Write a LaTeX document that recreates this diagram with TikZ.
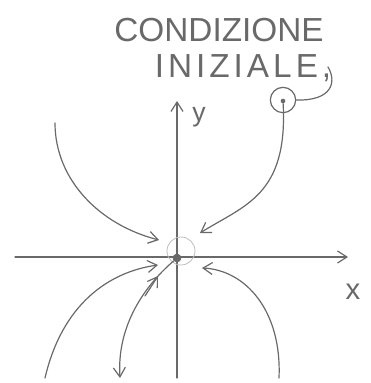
\documentclass[tikz,border=0pt]{standalone}
\usepackage{fontspec}
\setmainfont{Liberation Sans}
\usetikzlibrary{arrows.meta}
\definecolor{pencil}{RGB}{105,105,105}
\definecolor{faint}{RGB}{190,190,190}
\tikzset{
  pen/.style={draw=pencil, line width=0.9pt, line cap=round, line join=round},
  arr/.style={pen, -{Straight Barb[length=7pt,width=9pt]}},
  lab/.style={text=pencil, inner sep=0pt},
}
\begin{document}
\begin{tikzpicture}[x=0.75pt,y=-0.75pt]
\useasboundingbox (0,0) rectangle (371,383);
% axes
\coordinate (xs) at (15,257);
\coordinate (xe) at (348,257);
\coordinate (ys) at (177,378);
\coordinate (ye) at (177,101);
\draw[arr] (xs) -- (xe);
\draw[arr] (ys) -- (ye);
\node[lab, font=\fontsize{20}{20}\selectfont] (ylab) at (199,117) {y};
\node[lab, font=\fontsize{22}{22}\selectfont] (xlab) at (353,292) {x};
% equilibrium
\node[circle, draw=faint, line width=0.6pt, minimum size=21pt] (halo) at (181,251) {};
\node[circle, fill=pencil, draw=pencil, inner sep=0pt, minimum size=6pt] (O) at (177,258) {};
% labels
\node[lab, font=\fontsize{25}{25}\selectfont] (t1) at (219,30) {CONDIZIONE};
\node[lab, font=\fontsize{25}{25}\selectfont\addfontfeature{LetterSpace=12}] (t2) at (243,68) {INIZIALE,};
% initial condition
\node[circle, pen, minimum size=19pt, inner sep=0pt] (ic) at (283,100) {};
\node[circle, fill=pencil, inner sep=0pt, minimum size=3.5pt] (icd) at (283,101) {};
\coordinate (cm) at (328,67);
\draw[pen] (cm) .. controls (337,82) and (332,101) .. (ic.east);
% trajectories
\coordinate (a1) at (55,123);
\coordinate (a1e) at (159,240);
\draw[arr] (a1) .. controls (55,180) and (100,225) .. (a1e);
\coordinate (a2e) at (200,233);
\draw[arr] (icd) .. controls (288,195) and (245,205) .. (a2e);
\coordinate (a3) at (45,378);
\coordinate (a3e) at (158,265);
\draw[arr] (a3) .. controls (62,305) and (108,272) .. (a3e);
\coordinate (a4e) at (120,378);
\coordinate (a4m) at (158,276);
\draw[pen, -{Straight Barb[length=7pt,width=9pt]}] (O) .. controls (140,290) and (117,330) .. (a4e);
\draw[arr] (145,296) -- (a4m);
\coordinate (a5) at (279,378);
\coordinate (a5e) at (202,268);
\draw[arr] (a5) .. controls (282,310) and (245,270) .. (a5e);
\end{tikzpicture}
\end{document}
